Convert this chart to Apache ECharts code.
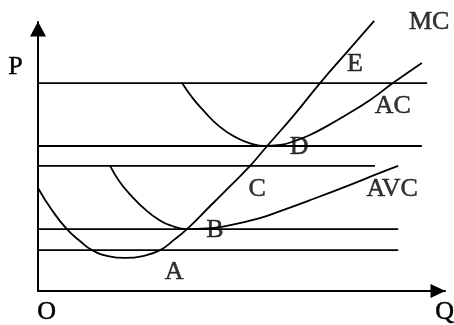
<!DOCTYPE html>
<html>
<head>
<meta charset="utf-8">
<script src="https://cdn.jsdelivr.net/npm/echarts@6/dist/echarts.min.js"></script>
<style>
  html, body { margin: 0; padding: 0; background: #fff; }
  #main { width: 454px; height: 325px; }
</style>
</head>
<body>
<div id="main"></div>
<script>
// price levels (horizontal lines) and where each one stops on the Q axis
var levelP = [77.3, 53.9, 46.5, 23.0, 15.2];
var levelQEnd = [95.6, 94.3, 82.8, 88.5, 88.5];

// cost curves, Q / P
var mcQ = [0, 3.4, 7.1, 10.3, 13.3, 17.2, 21.4, 25.8, 30.0, 33.4, 36.6, 42.3, 47.2, 52.1, 56.3, 62.9, 69.3, 75.9, 82.6];
var mcP = [38.3, 30.1, 23.0, 18.6, 15.2, 13.0, 12.3, 13.0, 15.2, 19.0, 23.0, 31.6, 39.0, 46.5, 53.9, 65.4, 77.3, 88.8, 100.4];

var acQ = [35.4, 37.8, 40.5, 44.7, 48.9, 52.8, 55.5, 59.5, 63.1, 66.8, 71.0, 74.9, 81.6, 87.2, 94.3];
var acP = [77.3, 72.1, 67.3, 61.0, 56.9, 54.6, 53.9, 54.3, 55.8, 58.0, 61.3, 64.7, 71.0, 77.3, 84.8];

var avcQ = [17.7, 20.1, 22.6, 26.8, 30.0, 32.4, 36.6, 42.3, 46.4, 54.5, 59.5, 67.6, 75.9, 84.0, 88.5];
var avcP = [46.5, 40.5, 35.9, 29.7, 26.2, 24.5, 23.0, 23.4, 24.2, 27.1, 29.7, 34.2, 39.0, 43.9, 46.5];

// marked points on MC
var pointNames = ['A', 'B', 'C', 'D', 'E'];
var pointQ = [30.0, 36.6, 52.1, 56.3, 69.3];
var pointP = [15.2, 23.0, 46.5, 53.9, 77.3];

var curveNames = ['MC', 'AC', 'AVC'];

var chart = echarts.init(document.getElementById('main'), null, { renderer: 'canvas' });

var serif = '"Liberation Serif", "Times New Roman", serif';
var ink = '#000';

function zip(xs, ys) {
    return xs.map(function (x, i) { return [x, ys[i]]; });
}

var series = [];

levelP.forEach(function (p, i) {
    series.push({
        type: 'line',
        data: [[0, p], [levelQEnd[i], p]],
        symbol: 'none',
        silent: true,
        lineStyle: { color: ink, width: 1.8 }
    });
});

var curves = [zip(mcQ, mcP), zip(acQ, acP), zip(avcQ, avcP)];
curves.forEach(function (pts, i) {
    series.push({
        name: curveNames[i],
        type: 'line',
        data: pts,
        smooth: 0.5,
        symbol: 'none',
        silent: true,
        clip: false,
        lineStyle: { color: ink, width: 1.8 }
    });
});

// label offsets (px) from the anchor point
var pointOffsets = [[14, 22], [28, 1], [7, 23], [32, 1], [35, -19]];
var curveOffsets = [[55, 1], [-29, 43], [-6, 23]];

var labelData = pointNames.map(function (n, i) {
    return { name: n, value: [pointQ[i], pointP[i]], label: { offset: pointOffsets[i] } };
});
curves.forEach(function (pts, i) {
    var end = pts[pts.length - 1];
    labelData.push({ name: curveNames[i], value: end, label: { offset: curveOffsets[i] } });
});

series.push({
    type: 'scatter',
    data: labelData,
    symbolSize: 0,
    silent: true,
    clip: false,
    label: {
        show: true,
        position: 'inside',
        formatter: '{b}',
        color: ink,
        fontFamily: serif,
        fontSize: 26,
        textBorderColor: ink,
        textBorderWidth: 0.5
    }
});

var axisCommon = {
    type: 'value',
    min: 0,
    max: 100,
    axisTick: { show: false },
    axisLabel: { show: false },
    splitLine: { show: false }
};

var option = {
    backgroundColor: '#fff',
    animation: false,
    grid: { left: 38, right: 9, top: 22, bottom: 34 },
    xAxis: Object.assign({}, axisCommon, {
        axisLine: {
            show: true,
            symbol: ['none', 'triangle'],
            symbolSize: [14, 15],
            symbolOffset: [0, -7],
            lineStyle: { color: ink, width: 2 }
        }
    }),
    yAxis: Object.assign({}, axisCommon, {
        axisLine: {
            show: true,
            symbol: ['none', 'triangle'],
            symbolSize: [16, 15],
            symbolOffset: [0, -7],
            lineStyle: { color: ink, width: 2 }
        }
    }),
    graphic: [
        { type: 'text', left: 8, top: 54, style: { text: 'P', font: '26px ' + serif, fill: ink, stroke: ink, lineWidth: 0.5 } },
        { type: 'text', left: 37, top: 299, style: { text: 'O', font: '26px ' + serif, fill: ink, stroke: ink, lineWidth: 0.5 } },
        { type: 'text', left: 435, top: 299, style: { text: 'Q', font: '26px ' + serif, fill: ink, stroke: ink, lineWidth: 0.5 } }
    ],
    series: series
};

chart.setOption(option);
</script>
</body>
</html>
